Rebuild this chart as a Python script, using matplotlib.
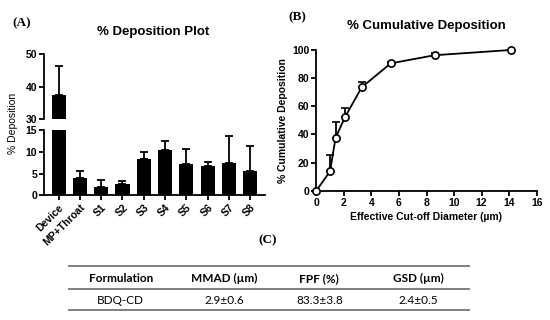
import matplotlib
matplotlib.use("Agg")
import matplotlib.pyplot as plt
import numpy as np

# Panel A data
stages = ["Device", "MP+Throat", "S1", "S2", "S3", "S4", "S5", "S6", "S7", "S8"]
deposition = [37.6, 3.9, 1.9, 2.6, 8.3, 10.4, 7.3, 6.8, 7.45, 5.7]
deposition_err = [8.7, 1.8, 1.6, 0.6, 1.6, 2.1, 3.3, 1.0, 6.3, 5.7]

# Panel B data
cutoff = [0, 1.0, 1.4, 2.1, 3.3, 5.4, 8.6, 14.1]
cumulative = [0, 13.8, 37.7, 52.6, 73.5, 90.5, 96.3, 100]
cumulative_err = [0, 11.5, 11.0, 6.2, 3.8, 0.8, 1.3, 0]

# Panel C table
table_cols = ["Formulation", "MMAD (µm)", "FPF (%)", "GSD (µm)"]
table_row = ["BDQ-CD", "2.9±0.6", "83.3±3.8", "2.4±0.5"]

W, H = 550, 320
fig = plt.figure(figsize=(5.5, 3.2), dpi=100)
plt.rcParams['font.family'] = ['Liberation Sans', 'DejaVu Sans']

def fx(px):
    return px / W
def fy(py):
    return 1 - py / H

tick_kw = dict(labelsize=7.5, width=1.3, length=3.5, pad=1.5)

# ---- Panel A broken axis ----
left = 44.3
right = 265
ax_top = fig.add_axes([fx(left), fy(119.3), fx(right - left), (119.3 - 54.3) / H])
ax_bot = fig.add_axes([fx(left), fy(195.3), fx(right - left), (195.3 - 130.3) / H])
x = np.arange(len(stages))
for ax in (ax_top, ax_bot):
    ax.bar(x, deposition, width=0.66, color="black", zorder=2)
    ax.errorbar(x, deposition, yerr=[np.zeros(len(x)), deposition_err], fmt="none",
                ecolor="black", elinewidth=1.3, capsize=3, capthick=1.3, zorder=1)
    ax.set_xlim(-0.67, 9.69)
    for s in ("top", "right"):
        ax.spines[s].set_visible(False)
    for s in ("left", "bottom"):
        ax.spines[s].set_linewidth(1.3)
    ax.tick_params(**tick_kw)

ax_top.set_ylim(30, 50)
ax_top.set_yticks([30, 40, 50])
ax_top.spines["bottom"].set_visible(False)
ax_top.tick_params(axis="x", bottom=False, labelbottom=False)
for lab in ax_top.get_yticklabels():
    lab.set_fontweight("bold")

ax_bot.set_ylim(0, 15)
ax_bot.set_yticks([0, 5, 10, 15])
ax_bot.set_xticks(x)
ax_bot.set_xticklabels(stages, rotation=45, ha="right", rotation_mode="anchor",
                       fontweight="bold", fontsize=7.5)
for lab in ax_bot.get_yticklabels():
    lab.set_fontweight("bold")

fig.text(fx(13), fy(123), "% Deposition", rotation=90, ha="center", va="center", fontsize=7.5)
fig.text(fx(153), fy(31.5), "% Deposition Plot", ha="center", va="center",
         fontsize=9.5, fontweight="bold")
fig.text(fx(22), fy(23), "(A)", ha="center", va="center", fontsize=9.5,
         fontweight="bold", family="Liberation Serif")

# ---- Panel B ----
bl, br, bb, bt = 316.3, 536.7, 190.7, 50
axb = fig.add_axes([fx(bl), fy(bb), fx(br - bl), (bb - bt) / H])
axb.errorbar(cutoff, cumulative, yerr=[np.zeros(len(cutoff)), cumulative_err],
             fmt="-o", color="black", lw=1.3, ms=5.2, mfc="white", mec="black",
             mew=1.2, elinewidth=1.3, capsize=3, capthick=1.3, clip_on=False, zorder=3)
axb.set_xlim(0, 16)
axb.set_ylim(0, 100)
axb.set_xticks(range(0, 17, 2))
axb.set_yticks(range(0, 101, 20))
for s in ("top", "right"):
    axb.spines[s].set_visible(False)
for s in ("left", "bottom"):
    axb.spines[s].set_linewidth(1.3)
axb.tick_params(**tick_kw)
for lab in axb.get_xticklabels() + axb.get_yticklabels():
    lab.set_fontweight("bold")
axb.set_xlabel("Effective Cut-off Diameter (µm)", fontsize=7.5, fontweight="bold", labelpad=3)
axb.set_ylabel("% Cumulative Deposition", fontsize=7.5, fontweight="bold", labelpad=3)
fig.text(fx(426.7), fy(26), "% Cumulative Deposition", ha="center", va="center",
         fontsize=9.5, fontweight="bold")
fig.text(fx(297), fy(17), "(B)", ha="center", va="center", fontsize=9.5,
         fontweight="bold", family="Liberation Serif")

# ---- Panel C table ----
fig.text(fx(268), fy(240), "(C)", ha="center", va="center", fontsize=9.5,
         fontweight="bold", family="Liberation Serif")
col_x = [120.7, 224, 319.3, 418]
for cx, h, v in zip(col_x, table_cols, table_row):
    fig.text(fx(cx), fy(278.7), h, ha="center", va="center", fontsize=8.5,
             fontweight="bold", family=["Lato", "DejaVu Sans"])
    fig.text(fx(cx), fy(300.3), v, ha="center", va="center", fontsize=8.5,
             family=["Lato", "DejaVu Sans"])
for yy in (266.3, 289, 310.3):
    fig.add_artist(plt.Line2D([fx(69), fx(469)], [fy(yy), fy(yy)], color="#7f7f7f",
                              lw=1.4, transform=fig.transFigure))

fig.savefig("out.png", dpi=100)
